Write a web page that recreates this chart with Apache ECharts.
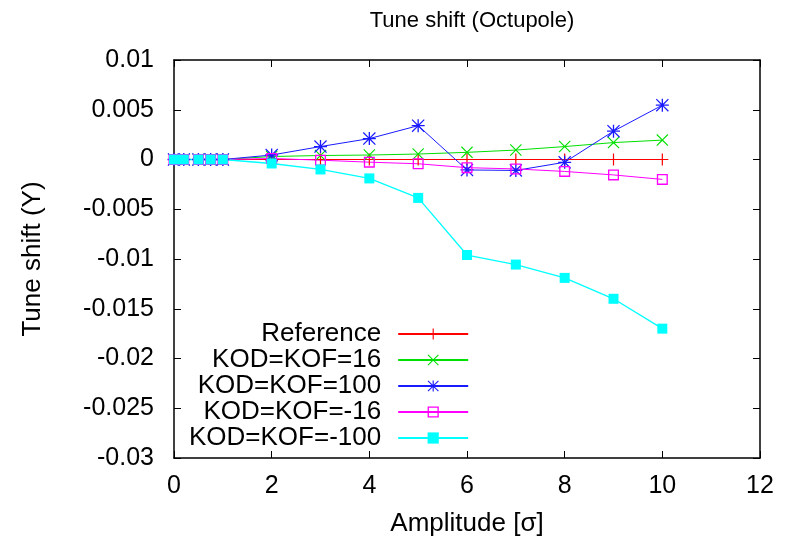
<!DOCTYPE html>
<html>
<head>
<meta charset="utf-8">
<script src="https://cdn.jsdelivr.net/npm/echarts@6/dist/echarts.min.js"></script>
<style>
  html, body { margin: 0; padding: 0; background: #fff; }
  #chart { width: 792px; height: 542px; }
</style>
</head>
<body>
<div id="chart"></div>
<script>
// amplitudes (sigma)
const amplitude = [0, 0.2, 0.5, 0.75, 1, 2, 3, 4, 5, 6, 7, 8, 9, 10];

const seriesNames = ["Reference", "KOD=KOF=16", "KOD=KOF=100", "KOD=KOF=-16", "KOD=KOF=-100"];

const refShift   = [0, 0, 0, 0, 0, 0, 0, 0, 0, 0, 0, 0, 0, 0];
const kof16      = [0, 0, 0, 0, 0, 0.0003, 0.0004, 0.00045, 0.00055, 0.00072, 0.00095, 0.0013, 0.0017, 0.00195];
const kof100     = [0, 0, 0, 0, 0, 0.00045, 0.0013, 0.0021, 0.0034, -0.00105, -0.0011, -0.00028, 0.00285, 0.00546];
const kofM16     = [0, 0, 0, 0, 0, 0.0001, -0.00007, -0.00027, -0.00043, -0.00082, -0.00095, -0.0012, -0.00155, -0.002];
const kofM100    = [0, 0, 0, 0, 0, -0.0004, -0.001, -0.0019, -0.00386, -0.0096, -0.01056, -0.0119, -0.014, -0.017];

const xTicks = [0, 2, 4, 6, 8, 10, 12];
const yTicks = [0.01, 0.005, 0, -0.005, -0.01, -0.015, -0.02, -0.025, -0.03];

const FONT = "Liberation Sans";

let chart = echarts.init(document.getElementById("chart"));

function pairs(ys) {
    return amplitude.map((x, i) => [x, ys[i]]);
}

// gnuplot-like point types
const plusPath  = "path://M0,5.4 H12 V6.6 H0 Z M5.4,0 H6.6 V12 H5.4 Z";
const crossPath = "path://M0.8,0 L6,5.2 L11.2,0 L12,0.8 L6.8,6 L12,11.2 L11.2,12 L6,6.8 L0.8,12 L0,11.2 L5.2,6 L0,0.8 Z";
const starPath  = "path://M0.8,0 L6,5.2 L11.2,0 L12,0.8 L6.8,6 L12,11.2 L11.2,12 L6,6.8 L0.8,12 L0,11.2 L5.2,6 L0,0.8 Z M0,5.4 H12 V6.6 H0 Z M5.4,0 H6.6 V12 H5.4 Z";
const boxPath   = "path://M0,0 H10 V10 H0 Z M1.2,1.2 V8.8 H8.8 V1.2 Z";

function makeSeries(name, ys, color, symbol, size, width) {
    return {
        name: name,
        type: "line",
        data: pairs(ys),
        symbol: symbol,
        symbolSize: size,
        showAllSymbol: true,
        itemStyle: { color: color },
        lineStyle: { color: color, width: width },
        emphasis: { disabled: true },
        animation: false
    };
}

const tickStyle = { inside: true, length: 7, lineStyle: { color: "#000", width: 1 } };
const lineStyle = { color: "#000", width: 1.5 };

let option = {
    backgroundColor: "#fff",
    title: {
        text: "Tune shift (Octupole)",
        left: 467,
        textAlign: "center",
        top: 5,
        textStyle: { fontFamily: FONT, fontSize: 22, fontWeight: "normal", color: "#000" }
    },
    legend: {
        orient: "vertical",
        align: "right",
        left: 189,
        top: 321,
        padding: 0,
        itemGap: 0,
        itemWidth: 70,
        itemHeight: 14,
        data: seriesNames,
        textStyle: { fontFamily: FONT, fontSize: 26, lineHeight: 26, color: "#000", padding: [0, 12, 0, 0] }
    },
    grid: { left: 174, right: 32, top: 60, bottom: 83 },
    xAxis: [{
        type: "value",
        min: 0, max: 12, interval: 2,
        name: "Amplitude [σ]",
        nameLocation: "middle",
        nameGap: 53,
        nameTextStyle: { fontFamily: FONT, fontSize: 26, color: "#000" },
        axisLine: { onZero: false, lineStyle: lineStyle },
        axisTick: tickStyle,
        axisLabel: { fontFamily: FONT, fontSize: 25, color: "#000", margin: 16,
                     formatter: v => xTicks.includes(v) ? String(v) : "" },
        splitLine: { show: false }
    }, {
        type: "value", position: "top",
        min: 0, max: 12, interval: 2,
        axisLine: { onZero: false, lineStyle: lineStyle },
        axisTick: tickStyle,
        axisLabel: { show: false },
        splitLine: { show: false }
    }],
    yAxis: [{
        type: "value",
        min: -0.03, max: 0.01, interval: 0.005,
        name: "Tune shift (Y)",
        nameLocation: "middle",
        nameGap: 128,
        nameTextStyle: { fontFamily: FONT, fontSize: 26, color: "#000" },
        axisLine: { show: true, onZero: false, lineStyle: lineStyle },
        axisTick: Object.assign({ show: true }, tickStyle),
        axisLabel: { fontFamily: FONT, fontSize: 25, color: "#000", margin: 20,
                     formatter: v => String(+v.toFixed(3)) },
        splitLine: { show: false }
    }, {
        type: "value", position: "right",
        min: -0.03, max: 0.01, interval: 0.005,
        axisLine: { show: true, onZero: false, lineStyle: lineStyle },
        axisTick: Object.assign({ show: true }, tickStyle),
        axisLabel: { show: false },
        splitLine: { show: false }
    }],
    series: [
        makeSeries(seriesNames[0], refShift, "#ff0000", plusPath, 12, 1),
        makeSeries(seriesNames[1], kof16, "#00e000", crossPath, 12, 1),
        makeSeries(seriesNames[2], kof100, "#1a1aff", starPath, 13, 1),
        makeSeries(seriesNames[3], kofM16, "#ff00ff", boxPath, 11, 1),
        makeSeries(seriesNames[4], kofM100, "#00ffff", "rect", 10, 1.3)
    ]
};

chart.setOption(option);
</script>
</body>
</html>
